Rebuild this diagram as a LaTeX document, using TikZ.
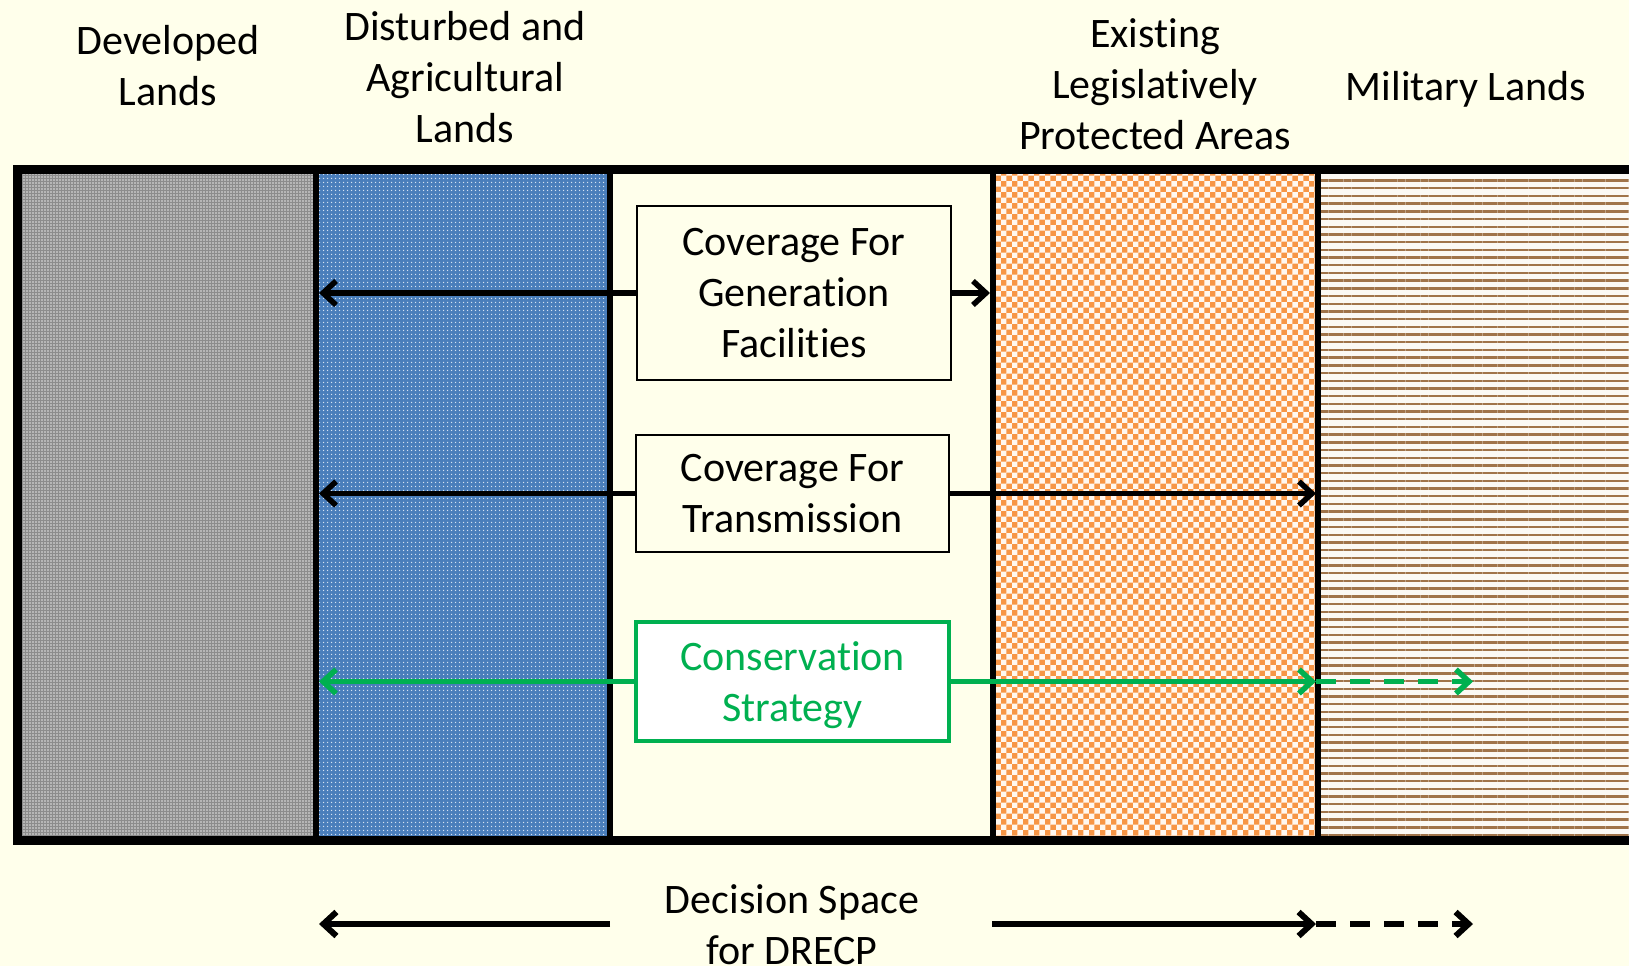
\documentclass[tikz,border=0pt]{standalone}
\usepackage{fontspec}
\setmainfont{Carlito}[Ligatures=NoCommon]
\usetikzlibrary{arrows.meta,patterns,patterns.meta}
\definecolor{paper}{HTML}{FFFFEB}
\definecolor{devgray}{HTML}{8C8C8C}
\definecolor{devdot}{HTML}{E2E2E2}
\definecolor{agblue}{HTML}{4A7EBB}
\definecolor{agdot}{HTML}{D5E2F2}
\definecolor{lpaorange}{HTML}{F79646}
\definecolor{lpacheck}{HTML}{FFF8F0}
\definecolor{milbase}{HTML}{FBF9F4}
\definecolor{milbrown}{HTML}{A0744A}
\definecolor{consgreen}{HTML}{00B050}

\begin{document}
\begin{tikzpicture}[x=1pt, y=-1pt,
    lbl/.style={align=center, font=\fontsize{42}{51}\selectfont, inner sep=0pt},
    cover/.style={lbl, draw, line width=2pt, fill=paper},
    link/.style={line width=5.5pt, -{Straight Barb[length=13pt,width=24pt]}},
    further/.style={link, dash pattern=on 20pt off 14pt},
    divider/.style={line width=5.5pt}]
    \useasboundingbox[fill=paper] (0,0) rectangle (1629,966);
    % land columns
    \fill[devgray] (17,169) rectangle (316,840);
    \fill[pattern={Dots[distance=3pt,radius=0.8pt]}, pattern color=devdot] (17,169) rectangle (316,840);
    \fill[agblue] (316,169) rectangle (610,840);
    \fill[pattern={Dots[distance=4pt,radius=0.9pt]}, pattern color=agdot] (316,169) rectangle (610,840);
    \fill[lpaorange] (993,169) rectangle (1318,840);
    \fill[pattern=checkerboard, pattern color=lpacheck] (993,169) rectangle (1318,840);
    \fill[milbase] (1318,169) rectangle (1660,840);
    \fill[pattern={Lines[distance=7.7pt,line width=2.4pt]}, pattern color=milbrown] (1318,169) rectangle (1660,840);
    \draw[line width=9pt] (17.5,169) rectangle (1660,840);
    \foreach \xd in {316, 610, 993, 1318}
      \draw[divider] (\xd,169) -- (\xd,840);
    % headings
    \node[lbl] (hdev) at (168,66) {Developed\\Lands};
    \node[lbl] (hdist) at (465,77) {Disturbed and\\Agricultural\\Lands};
    \node[lbl] (hexist) at (1155,84) {Existing\\Legislatively\\Protected Areas};
    \node[lbl] (hmil) at (1466,89) {Military Lands};
    % coverage boxes
    \node[cover, minimum width=314pt, minimum height=174pt] (gen) at (794,293) {Coverage For\\Generation\\Facilities};
    \node[cover, minimum width=313pt, minimum height=117pt] (trans) at (792.5,493.5) {Coverage For\\Transmission};
    \node[cover, draw=consgreen, text=consgreen, fill=white, line width=4.5pt, text depth=0pt,
      minimum width=313pt, minimum height=119pt] (cons) at (792.5,681.5) {Conservation\\Strategy};
    \node[lbl] (space) at (792,925) {Decision Space\\for DRECP};
    % arrow ends
    \coordinate (genL) at (319,293);
    \coordinate (genR) at (990,293);
    \coordinate (transL) at (319,493.5);
    \coordinate (transR) at (1316,493.5);
    \coordinate (consL) at (319,681.5);
    \coordinate (consR) at (1316,681.5);
    \coordinate (consX) at (1473,681.5);
    \coordinate (spaceA) at (610,924);
    \coordinate (spaceB) at (992,924);
    \coordinate (spaceL) at (319,924);
    \coordinate (spaceR) at (1316,924);
    \coordinate (spaceX) at (1473,924);
    % arrows
    \draw[link] (gen.west) -- (genL);
    \draw[link] (gen.east) -- (genR);
    \draw[link] (trans.west) -- (transL);
    \draw[link] (trans.east) -- (transR);
    \draw[link, consgreen] (cons.west) -- (consL);
    \draw[link, consgreen] (cons.east) -- (consR);
    \draw[further, consgreen] (consR) -- (consX);
    \draw[link, line width=6pt] (spaceA) -- (spaceL);
    \draw[link, line width=6pt] (spaceB) -- (spaceR);
    \draw[further, line width=6pt] (spaceR) -- (spaceX);
\end{tikzpicture}
\end{document}
